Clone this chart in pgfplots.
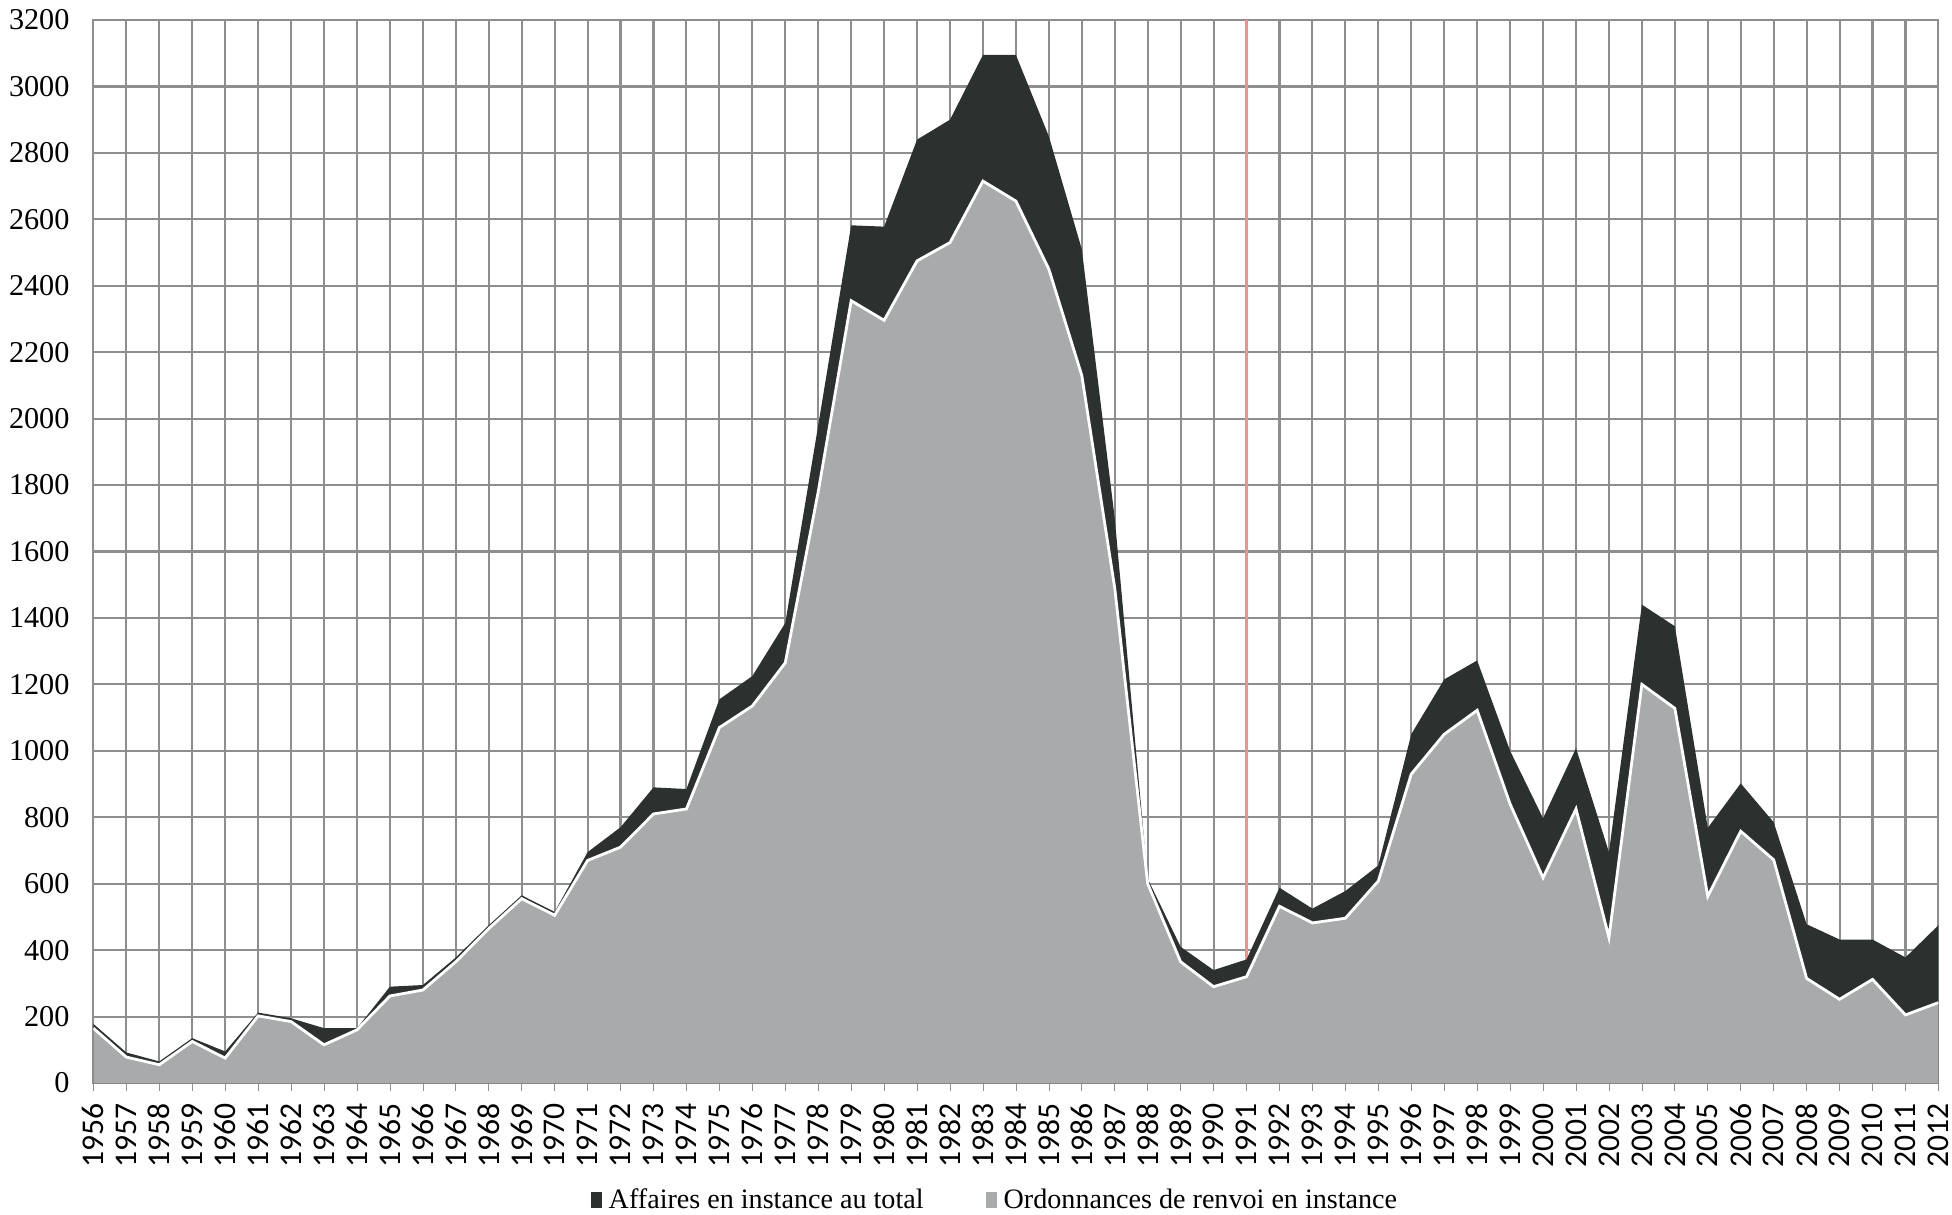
\documentclass[border=0pt]{standalone}
\usepackage{pgfplots}
\usepackage{pgfplotstable}
\pgfplotsset{compat=1.18}
\usepackage{fontspec}
\setmainfont{Liberation Serif}
\newfontfamily\carlito{Carlito}

\definecolor{darkfill}{HTML}{2C3130}
\definecolor{lightfill}{HTML}{A9AAAC}
\definecolor{gridgray}{HTML}{8E8E8E}

% année, affaires en instance au total, ordonnances de renvoi en instance
\pgfplotstableread{
year total renvoi
1956 178 165
1957 92 78
1958 65 55
1959 135 125
1960 95 75
1961 212 202
1962 195 185
1963 165 115
1964 165 160
1965 290 262
1966 295 280
1967 378 365
1968 475 465
1969 565 555
1970 515 505
1971 695 670
1972 770 710
1973 890 810
1974 885 825
1975 1155 1070
1976 1225 1135
1977 1385 1265
1978 1980 1780
1979 2582 2355
1980 2578 2296
1981 2840 2475
1982 2900 2530
1983 3095 2715
1984 3095 2655
1985 2850 2450
1986 2510 2130
1987 1700 1490
1988 615 600
1989 410 365
1990 340 290
1991 372 320
1992 588 532
1993 525 482
1994 578 496
1995 655 608
1996 1050 930
1997 1215 1050
1998 1272 1122
1999 1000 840
2000 797 618
2001 1008 825
2002 695 438
2003 1440 1200
2004 1375 1128
2005 768 562
2006 902 758
2007 785 672
2008 478 315
2009 432 252
2010 432 312
2011 378 205
2012 475 242
}\data

\begin{document}
\begin{tikzpicture}
\path[use as bounding box] (-0.934,-1.31) rectangle (18.586,10.83);
\begin{axis}[
    width=18.45cm,
    height=10.63cm,
    scale only axis,
    xmin=1956, xmax=2012,
    ymin=0, ymax=3200,
    xtick=data,
    ytick={0,200,...,3200},
    /pgf/number format/1000 sep={},
    /pgf/number format/assume math mode=true,
    grid=major,
    major grid style={gridgray, line width=0.6pt},
    axis line style={gridgray, line width=0.6pt},
    xtick pos=bottom,
    tick align=outside,
    major tick length=0.08cm,
    xtick style={gridgray},
    ytick style={draw=none},
    yticklabel style={font=\fontsize{8.6}{10}\selectfont, xshift=-1pt},
    xticklabel style={rotate=90, anchor=east, font=\carlito\fontsize{9}{10}\selectfont,
        /pgf/number format/fixed, /pgf/number format/precision=0},
    extra x ticks={1991},
    extra x tick labels={},
    extra x tick style={grid=major, major grid style={red!45, line width=0.6pt}, tick style={draw=none}},
    legend style={at={(0.49,-0.111)}, anchor=center, draw=none, legend columns=2,
        font=\fontsize{8}{9}\selectfont,
        /tikz/every even column/.append style={column sep=0.55cm}},
    legend image code/.code={\fill[#1] (0cm,-0.07cm) rectangle (0.11cm,0.09cm);},
]
\addplot[fill=darkfill, draw=none] table[x=year, y=total] {\data} \closedcycle;
\addlegendentry{Affaires en instance au total}
\addplot[fill=lightfill, draw=none] table[x=year, y=renvoi] {\data} \closedcycle;
\addlegendentry{Ordonnances de renvoi en instance}
\addplot[white, line width=0.8pt, forget plot] table[x=year, y=renvoi] {\data};
\end{axis}
\end{tikzpicture}
\end{document}
